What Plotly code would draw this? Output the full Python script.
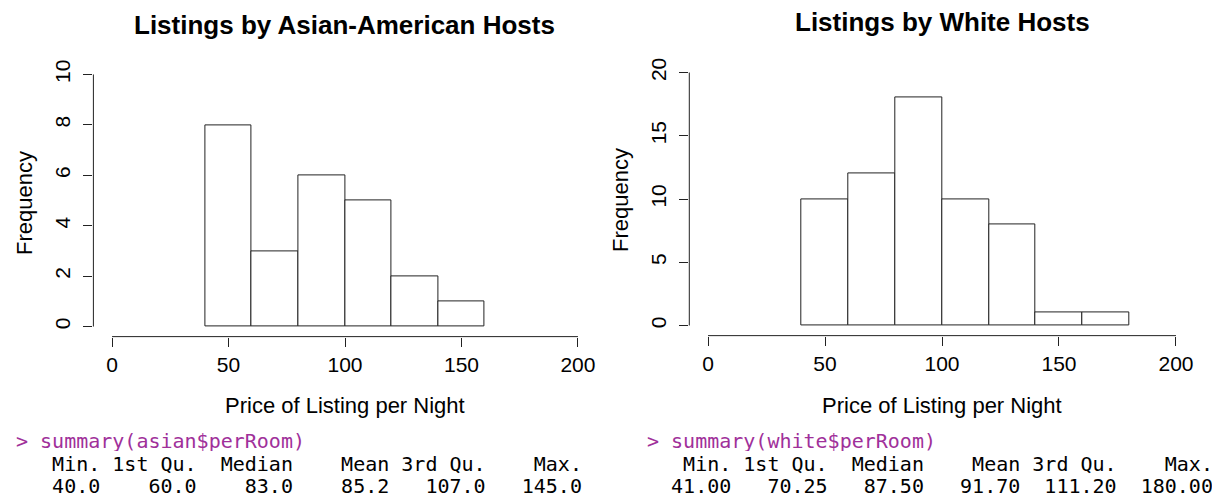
import plotly.graph_objects as go

W, H = 1212, 496

# ---- data ----
bin_width = 20
asian_bin_left = [40, 60, 80, 100, 120, 140]
asian_counts = [8, 3, 6, 5, 2, 1]
white_bin_left = [40, 60, 80, 100, 120, 140, 160]
white_counts = [10, 12, 18, 10, 8, 1, 1]

x_ticks = [0, 50, 100, 150, 200]
asian_y_ticks = [0, 2, 4, 6, 8, 10]
white_y_ticks = [0, 5, 10, 15, 20]

titles = ["Listings by Asian-American Hosts", "Listings by White Hosts"]
x_label = "Price of Listing per Night"
y_label = "Frequency"

asian_cmd = "> summary(asian$perRoom)"
white_cmd = "> summary(white$perRoom)"
summary_header = "   Min. 1st Qu.  Median    Mean 3rd Qu.    Max."
asian_summary = "   40.0    60.0    83.0    85.2   107.0   145.0"
white_summary = "  41.00   70.25   87.50   91.70  111.20  180.00"

LINE = "#222222"
SANS = "Liberation Sans, Arial, sans-serif"
MONO = "DejaVu Sans Mono, monospace"

fig = go.Figure()

def px_x(p):
    return p / W

def px_y(p):
    return 1 - p / H

panels = [
    dict(bins=asian_bin_left, counts=asian_counts, yticks=asian_y_ticks,
         xdom=[93.4, 596.6], ydom=[60, 335], ax="", cmd=asian_cmd, vals=asian_summary,
         text_x=15, title_y=20, ylab_x=25, ylab_y=200),
    dict(bins=white_bin_left, counts=white_counts, yticks=white_y_ticks,
         xdom=[689.3, 1194.7], ydom=[58, 334], ax="2", cmd=white_cmd, vals=white_summary,
         text_x=646, title_y=17, ylab_x=620, ylab_y=197),
]

annotations = []
shapes = []
for i, p in enumerate(panels):
    xa = "x" + p["ax"]
    ya = "y" + p["ax"]
    centers = [b + bin_width / 2 for b in p["bins"]]
    fig.add_trace(go.Bar(
        x=centers, y=p["counts"], width=bin_width,
        marker=dict(color="white", line=dict(color=LINE, width=1)),
        xaxis=xa, yaxis=ya, showlegend=False, hoverinfo="x+y",
    ))
    xspan = x_ticks[-1] - x_ticks[0]
    ymax = p["yticks"][-1]
    xkey = "xaxis" + p["ax"]
    ykey = "yaxis" + p["ax"]
    fig.layout[xkey] = dict(
        domain=[px_x(p["xdom"][0]), px_x(p["xdom"][1])],
        range=[x_ticks[0] - 0.04 * xspan, x_ticks[-1] + 0.04 * xspan],
        anchor=ya, tickmode="array", tickvals=x_ticks, ticktext=[str(t) for t in x_ticks],
        ticks="outside", ticklen=9, tickwidth=1, tickcolor=LINE,
        showline=False, showgrid=False, zeroline=False,
        tickfont=dict(family=SANS, size=21, color="black"),
        ticklabelstandoff=0,
    )
    fig.layout[ykey] = dict(
        domain=[px_y(p["ydom"][1]), px_y(p["ydom"][0])],
        range=[-0.04 * ymax, ymax * 1.04],
        anchor=xa, tickmode="array", tickvals=p["yticks"], ticktext=[str(t) for t in p["yticks"]],
        ticks="outside", ticklen=9, tickwidth=1, tickcolor=LINE,
        showline=False, showgrid=False, zeroline=False, tickangle=-90,
        tickfont=dict(family=SANS, size=21, color="black"),
        ticklabelstandoff=5,
    )
    # R-style axis lines spanning tick range only
    shapes.append(dict(type="line", xref=xa, yref=ya + " domain",
                       x0=x_ticks[0], x1=x_ticks[-1], y0=0, y1=0,
                       line=dict(color=LINE, width=1)))
    shapes.append(dict(type="line", xref=xa + " domain", yref=ya,
                       x0=0, x1=0, y0=p["yticks"][0], y1=p["yticks"][-1],
                       line=dict(color=LINE, width=1)))
    cx = (p["xdom"][0] + p["xdom"][1]) / 2
    annotations.append(dict(text="<b>" + titles[i] + "</b>", x=px_x(cx), y=px_y(p["title_y"]),
                            xref="paper", yref="paper", xanchor="center", yanchor="middle",
                            showarrow=False, font=dict(family=SANS, size=26, color="black")))
    annotations.append(dict(text=x_label, x=px_x(cx), y=px_y(405),
                            xref="paper", yref="paper", xanchor="center", yanchor="middle",
                            showarrow=False, font=dict(family=SANS, size=22, color="black")))
    annotations.append(dict(text=y_label, x=px_x(p["ylab_x"]), y=px_y(p["ylab_y"]),
                            xref="paper", yref="paper", xanchor="center", yanchor="middle",
                            textangle=-90, showarrow=False,
                            font=dict(family=SANS, size=22, color="black")))
    for txt, yy, col in [(p["cmd"], 440, "#A0309A"),
                         (summary_header, 463, "black"),
                         (p["vals"], 485, "black")]:
        annotations.append(dict(text=txt.replace(" ", "\u00a0"), x=px_x(p["text_x"]), y=px_y(yy),
                                xref="paper", yref="paper", xanchor="left", yanchor="middle",
                                height=21, borderpad=0,
                                showarrow=False, font=dict(family=MONO, size=20, color=col)))

fig.update_layout(
    width=W, height=H, margin=dict(l=0, r=0, t=0, b=0),
    paper_bgcolor="white", plot_bgcolor="white",
    annotations=annotations, shapes=shapes, bargap=0,
)

fig.write_html("out.html")
